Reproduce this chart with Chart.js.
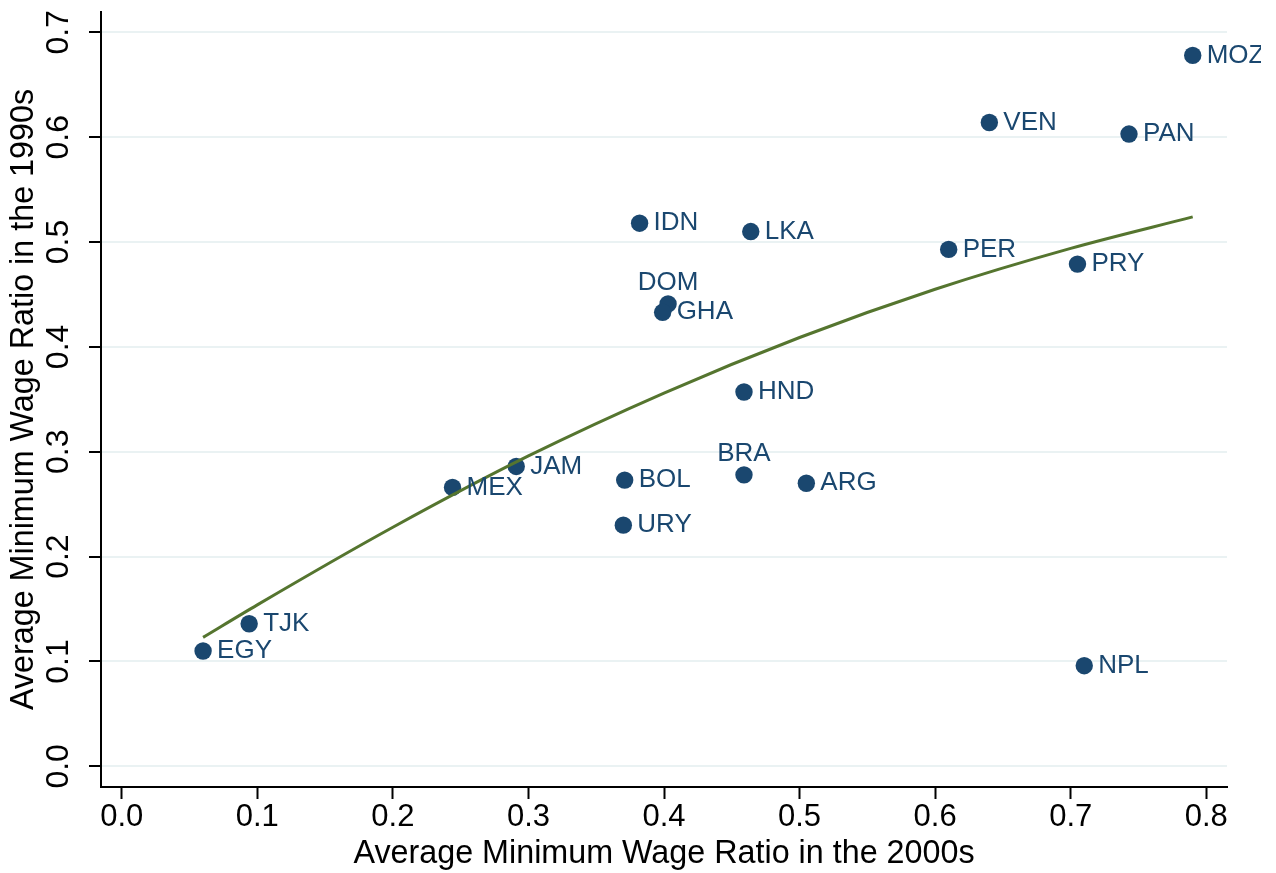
<!DOCTYPE html>
<html>
<head>
<meta charset="utf-8">
<script src="https://cdn.jsdelivr.net/npm/chart.js@4"></script>
<style>
  html, body { margin: 0; padding: 0; background: #fff; }
  #wrap { width: 1276px; height: 873px; }
</style>
</head>
<body>
<div id="wrap"><canvas id="chart" width="1276" height="873"></canvas></div>
<script>
// Countries and their average minimum wage ratios
const countries = ['EGY', 'TJK', 'MEX', 'JAM', 'BOL', 'URY', 'BRA', 'ARG', 'IDN', 'LKA',
                   'DOM', 'GHA', 'HND', 'VEN', 'PAN', 'MOZ', 'PER', 'PRY', 'NPL'];
const ratio2000s = [0.060, 0.094, 0.244, 0.291, 0.371, 0.370, 0.459, 0.505, 0.382, 0.464,
                    0.403, 0.399, 0.459, 0.640, 0.743, 0.790, 0.610, 0.705, 0.710];
const ratio1990s = [0.110, 0.136, 0.266, 0.286, 0.273, 0.230, 0.278, 0.270, 0.518, 0.510,
                    0.441, 0.433, 0.357, 0.614, 0.603, 0.678, 0.493, 0.479, 0.096];
// labels placed above the marker (others go to the right)
const labelsAbove = ['DOM', 'BRA'];

// Fitted curve
const fitX = [0.060, 0.100, 0.200, 0.300, 0.400, 0.500, 0.600, 0.700, 0.790];
const fitY = [0.123, 0.154, 0.228, 0.296, 0.356, 0.409, 0.455, 0.494, 0.524];

// Tick labels
const xTicks = [0.0, 0.1, 0.2, 0.3, 0.4, 0.5, 0.6, 0.7, 0.8];
const yTicks = [0.0, 0.1, 0.2, 0.3, 0.4, 0.5, 0.6, 0.7];

const navy = '#1a476f';
const green = '#55752f';
const gridColor = '#eaf2f3';
const fontFamily = '"Liberation Sans", Arial, Helvetica, sans-serif';

// Plugin: rotated y tick labels + country labels next to markers
const labelPlugin = {
    id: 'labels',
    afterDraw(chart) {
        const ctx = chart.ctx;
        const yScale = chart.scales.y;

        // y tick labels, rotated like the original
        ctx.save();
        ctx.fillStyle = '#000';
        ctx.font = '32px ' + fontFamily;
        ctx.textAlign = 'center';
        ctx.textBaseline = 'middle';
        yTicks.forEach(v => {
            const py = yScale.getPixelForValue(v);
            ctx.save();
            ctx.translate(59, py);
            ctx.rotate(-Math.PI / 2);
            ctx.fillText(v.toFixed(1), 0, 0);
            ctx.restore();
        });
        ctx.restore();

        // country labels
        const meta = chart.getDatasetMeta(1);
        ctx.save();
        ctx.beginPath();
        ctx.rect(0, 0, 1261, chart.height);
        ctx.clip();
        ctx.fillStyle = navy;
        ctx.font = '26px ' + fontFamily;
        meta.data.forEach((pt, i) => {
            const name = countries[i];
            if (labelsAbove.includes(name)) {
                ctx.textAlign = 'center';
                ctx.textBaseline = 'alphabetic';
                ctx.fillText(name, pt.x, pt.y - 13.5);
            } else {
                ctx.textAlign = 'left';
                ctx.textBaseline = 'middle';
                ctx.fillText(name, pt.x + 14, pt.y);
            }
        });
        ctx.restore();
    }
};

const scatterData = ratio2000s.map((x, i) => ({ x: x, y: ratio1990s[i] }));
const fitData = fitX.map((x, i) => ({ x: x, y: fitY[i] }));

new Chart(document.getElementById('chart'), {
    type: 'scatter',
    data: {
        datasets: [
            {
                label: 'Fitted values',
                data: fitData,
                showLine: true,
                borderColor: green,
                borderWidth: 3,
                pointRadius: 0,
                cubicInterpolationMode: 'monotone',
                order: 0
            },
            {
                label: 'Countries',
                data: scatterData,
                backgroundColor: navy,
                borderColor: navy,
                borderWidth: 0,
                pointRadius: 8.7,
                order: 1
            }
        ]
    },
    options: {
        responsive: false,
        animation: false,
        layout: { padding: { top: 12, right: 49, left: 0, bottom: 0 } },
        plugins: {
            legend: { display: false },
            tooltip: { enabled: false }
        },
        scales: {
            x: {
                type: 'linear',
                min: -0.0153,
                max: 0.8153,
                afterBuildTicks: s => { s.ticks = xTicks.map(v => ({ value: v })); },
                afterFit: s => { s.height = 86; },
                border: { display: true, color: '#000', width: 2 },
                grid: { drawOnChartArea: false, drawTicks: true, tickLength: 12, tickColor: '#000', tickWidth: 2 },
                ticks: {
                    padding: 0,
                    color: '#000',
                    font: { family: fontFamily, size: 31 },
                    maxRotation: 0,
                    callback: v => Number(v).toFixed(1)
                },
                title: {
                    display: true,
                    text: 'Average Minimum Wage Ratio in the 2000s',
                    color: '#000',
                    font: { family: fontFamily, size: 32.3 },
                    padding: { top: 0, bottom: 0 }
                }
            },
            y: {
                type: 'linear',
                min: -0.0197,
                max: 0.7194,
                afterBuildTicks: s => { s.ticks = yTicks.map(v => ({ value: v })); },
                afterFit: s => { s.width = 101; },
                border: { display: true, color: '#000', width: 2 },
                grid: { color: gridColor, lineWidth: 2, drawTicks: true, tickLength: 12, tickColor: '#000', tickWidth: 2 },
                ticks: { display: false },
                title: {
                    display: true,
                    text: 'Average Minimum Wage Ratio in the 1990s',
                    color: '#000',
                    font: { family: fontFamily, size: 32.3 },
                    padding: { top: 5, bottom: 0 }
                }
            }
        }
    },
    plugins: [labelPlugin]
});
</script>
</body>
</html>
